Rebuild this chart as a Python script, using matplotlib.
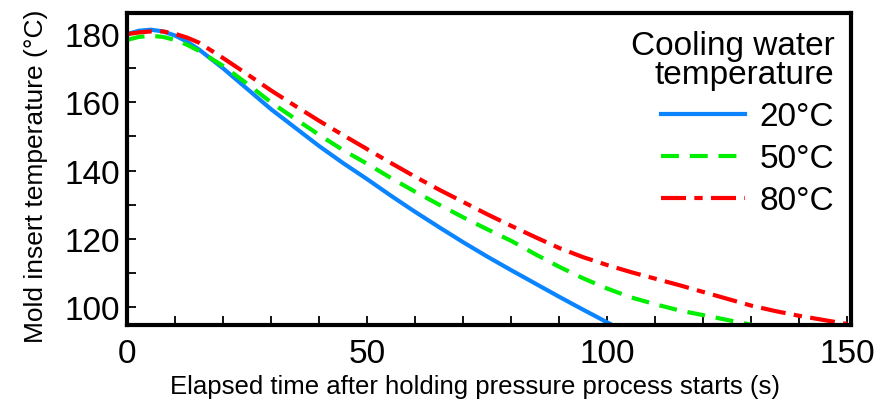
import numpy as np
import matplotlib.pyplot as plt
from matplotlib.ticker import MultipleLocator

plt.rcParams['font.family'] = ['Liberation Sans', 'DejaVu Sans']

# elapsed time (s) and mold insert temperature (C) for each cooling water temperature
t_20 = [0, 2.5, 5, 7.5, 10, 12.5, 15, 20, 25, 30, 35, 40, 45, 50, 55, 60, 65, 70, 75, 80,
        85, 90, 95, 100, 102]
T_20 = [180.0, 181.0, 181.3, 180.8, 179.6, 177.8, 175.5, 170.0, 164.0, 158.0, 152.6, 147.2,
        142.2, 137.5, 132.6, 127.9, 123.4, 119.0, 114.8, 110.8, 106.9, 103.0, 99.2, 95.5, 94.0]

t_50 = [0, 2.5, 5, 7.5, 10, 12.5, 15, 20, 25, 30, 35, 40, 45, 50, 55, 60, 65, 70, 75, 80,
        85, 90, 95, 100, 105, 110, 115, 120, 125, 130]
T_50 = [178.3, 179.2, 179.5, 179.2, 178.3, 176.9, 175.1, 170.7, 165.5, 160.0, 155.2, 150.5,
        146.0, 142.0, 137.8, 133.8, 130.0, 126.3, 122.8, 119.4, 115.5, 111.8, 108.4, 105.4,
        102.8, 100.8, 99.0, 97.6, 96.2, 94.8]

t_80 = [0, 2.5, 5, 7.5, 10, 12.5, 15, 20, 25, 30, 35, 40, 45, 50, 55, 60, 65, 70, 75, 80,
        85, 90, 95, 100, 105, 110, 115, 120, 125, 130, 135, 140, 145, 150]
T_80 = [180.0, 180.5, 180.8, 180.8, 180.1, 179.0, 177.5, 173.0, 168.3, 163.5, 159.0, 154.6,
        150.4, 146.3, 142.2, 138.2, 134.4, 130.8, 127.2, 123.8, 120.5, 117.3, 114.6, 112.3,
        110.2, 108.3, 106.4, 104.4, 102.4, 100.4, 98.8, 97.4, 96.2, 95.0]

labels = ['20°C', '50°C', '80°C']

fig = plt.figure(figsize=(8.86, 4.06), dpi=100)
ax = fig.add_axes([0.1433, 0.197, 0.8172, 0.7685])

ax.plot(t_20, T_20, color='#0a84ff', lw=3, label=labels[0])
ax.plot(t_50, T_50, color='#00ee00', lw=3, dashes=(4.3, 2.6), label=labels[1])
ax.plot(t_80, T_80, color='#ff0000', lw=3, dashes=(6, 2, 2, 2), label=labels[2])

ax.set_xlim(0, 150.8)
ax.set_ylim(94.7, 186.2)
ax.xaxis.set_major_locator(MultipleLocator(50))
ax.xaxis.set_minor_locator(MultipleLocator(10))
ax.yaxis.set_major_locator(MultipleLocator(20))
ax.yaxis.set_minor_locator(MultipleLocator(10))
ax.tick_params(which='both', direction='in', length=6.5, width=1.3, labelsize=24)
ax.tick_params(axis='x', pad=9)
ax.tick_params(axis='y', pad=5)
for s in ax.spines.values():
    s.set_linewidth(3)

ax.set_xlabel('Elapsed time after holding pressure process starts (s)', fontsize=18.5,
              labelpad=4, x=0.48)
ax.set_ylabel('Mold insert temperature (°C)', fontsize=19, labelpad=12, y=0.48)

leg = ax.legend(loc='upper right', frameon=False, title='Cooling water\ntemperature',
                fontsize=24, title_fontsize=24, alignment='right', handlelength=2.5,
                handletextpad=0.45, labelspacing=0.33, borderaxespad=0.1)
leg.get_title().set_multialignment('right')
leg.get_title().set_linespacing(0.95)

fig.savefig('out.png', dpi=100)
